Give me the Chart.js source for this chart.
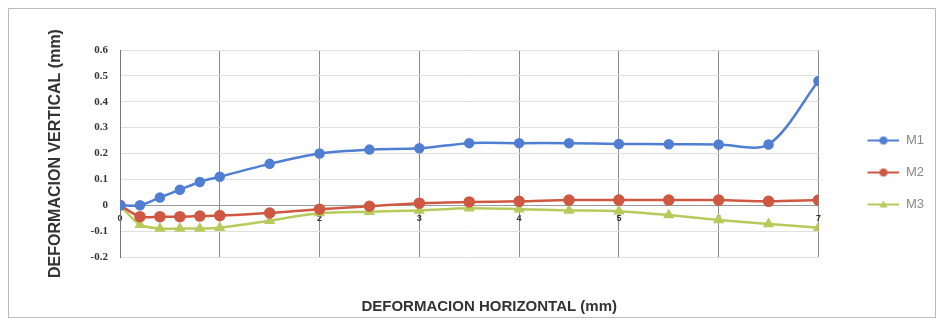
<!DOCTYPE html>
<html lang="es">
<head>
  <meta charset="UTF-8" />
  <title>Deformacion</title>
  <script src="https://cdn.jsdelivr.net/npm/chart.js"></script>
  <style>
    body {
      margin: 0;
      background: #fff;
    }
    .wrap {
      position: relative;
      width: 942px;
      height: 329px;
    }
    .frame {
      position: absolute;
      left: 8px;
      top: 8px;
      width: 926px;
      height: 308px;
      border: 1px solid #bbb;
      pointer-events: none;
    }
  </style>
</head>
<body>
  <div class="wrap">
    <canvas id="chart" width="942" height="329"></canvas>
    <div class="frame"></div>
  </div>

  <script>
    // deformacion horizontal (mm)
    const horizontal = [0, 0.2, 0.4, 0.6, 0.8, 1, 1.5, 2, 2.5, 3, 3.5, 4, 4.5, 5, 5.5, 6, 6.5, 7];
    // deformacion vertical (mm)
    const m1 = [0, 0, 0.03, 0.06, 0.09, 0.11, 0.16, 0.2, 0.215, 0.22, 0.24, 0.24, 0.24, 0.237, 0.236, 0.235, 0.235, 0.48];
    const m2 = [0, -0.044, -0.044, -0.044, -0.042, -0.04, -0.03, -0.015, -0.004, 0.008, 0.013, 0.015, 0.02, 0.02, 0.02, 0.02, 0.015, 0.02];
    const m3 = [0, -0.075, -0.09, -0.09, -0.09, -0.087, -0.06, -0.03, -0.025, -0.02, -0.012, -0.015, -0.02, -0.023, -0.038, -0.057, -0.072, -0.087];
    const series = ["M1", "M2", "M3"];
    const xTicks = [0, 1, 2, 3, 4, 5, 6, 7];
    const yTicks = [-0.2, -0.1, 0, 0.1, 0.2, 0.3, 0.4, 0.5, 0.6];

    const colors = ["#4f7ed2", "#cf5842", "#b8ca5c"];
    const markers = ["circle", "circle", "triangle"];

    function toPoints(ys) {
      return horizontal.map((x, i) => ({ x, y: ys[i] }));
    }

    // legend symbol: short line with marker
    function legendIcon(color, marker) {
      const c = document.createElement("canvas");
      c.width = 62;
      c.height = 12;
      const g = c.getContext("2d");
      g.strokeStyle = color;
      g.fillStyle = color;
      g.lineWidth = 2;
      g.beginPath();
      g.moveTo(30, 6);
      g.lineTo(62, 6);
      g.stroke();
      g.beginPath();
      if (marker === "triangle") {
        g.moveTo(46, 2);
        g.lineTo(50, 9);
        g.lineTo(42, 9);
        g.closePath();
      } else {
        g.arc(46, 6, 4, 0, Math.PI * 2);
      }
      g.fill();
      return c;
    }
    const icons = colors.map((c, i) => legendIcon(c, markers[i]));

    const datasets = [m1, m2, m3].map((ys, i) => ({
      label: series[i],
      data: toPoints(ys),
      showLine: true,
      borderColor: colors[i],
      backgroundColor: colors[i],
      borderWidth: 2.5,
      pointStyle: markers[i],
      pointRadius: i === 1 ? 4.5 : 4,
      tension: 0.3
    }));

    // the x title sits a little right of the plot centre in the original
    const shiftTitle = {
      id: "shiftTitle",
      afterLayout(chart) {
        const s = chart.scales.x2;
        s.left += 20;
        s.right += 20;
      }
    };

    const ctx = document.getElementById("chart").getContext("2d");
    new Chart(ctx, {
      type: "scatter",
      data: { datasets },
      plugins: [shiftTitle],
      options: {
        responsive: false,
        animation: false,
        layout: {
          padding: { top: 50, left: 38, right: 8, bottom: 0 }
        },
        plugins: {
          tooltip: { enabled: false },
          legend: {
            position: "right",
            fullSize: false,
            // empty title just pushes the entries down a bit
            title: { display: true, text: " ", padding: 13, font: { size: 10 } },
            labels: {
              usePointStyle: true,
              pointStyleWidth: 62,
              padding: 19,
              color: "#8a8a8a",
              font: { family: "Liberation Sans", size: 13 },
              generateLabels: chart =>
                Chart.defaults.plugins.legend.labels.generateLabels(chart).map((l, i) => ({ ...l, pointStyle: icons[i] }))
            }
          }
        },
        scales: {
          x: {
            type: "linear",
            position: { y: 0 },
            min: 0,
            max: 7,
            afterBuildTicks: axis => { axis.ticks = xTicks.map(v => ({ value: v })); },
            grid: { color: "#8c8c8c", lineWidth: 1, drawTicks: false },
            border: { color: "#999" },
            ticks: {
              padding: 8,
              color: "#333",
              font: { family: "Liberation Sans", size: 9, weight: "bold" }
            }
          },
          x2: {
            type: "linear",
            position: "bottom",
            min: 0,
            max: 7,
            afterFit: axis => { axis.height = 72; },
            grid: { display: false },
            border: { display: false },
            ticks: { display: false },
            title: {
              display: true,
              text: "DEFORMACION HORIZONTAL (mm)",
              color: "#333",
              padding: { top: 4, bottom: 13 },
              font: { family: "Liberation Sans", size: 15, weight: "bold" }
            }
          },
          y: {
            min: -0.2,
            max: 0.6,
            afterFit: axis => { axis.width = 82; },
            afterBuildTicks: axis => { axis.ticks = yTicks.map(v => ({ value: v })); },
            grid: { color: "#e0e0e0", drawTicks: false },
            border: { color: "#777" },
            ticks: {
              padding: 12,
              color: "#333",
              font: { family: "Liberation Serif", size: 11, weight: "bold" },
              callback: v => String(Math.round(v * 10) / 10)
            },
            title: {
              display: true,
              text: "DEFORMACION VERTICAL (mm)",
              color: "#333",
              padding: { top: 8, bottom: 4 },
              font: { family: "Liberation Sans", size: 16, weight: "bold" }
            }
          }
        }
      }
    });
  </script>
</body>
</html>
